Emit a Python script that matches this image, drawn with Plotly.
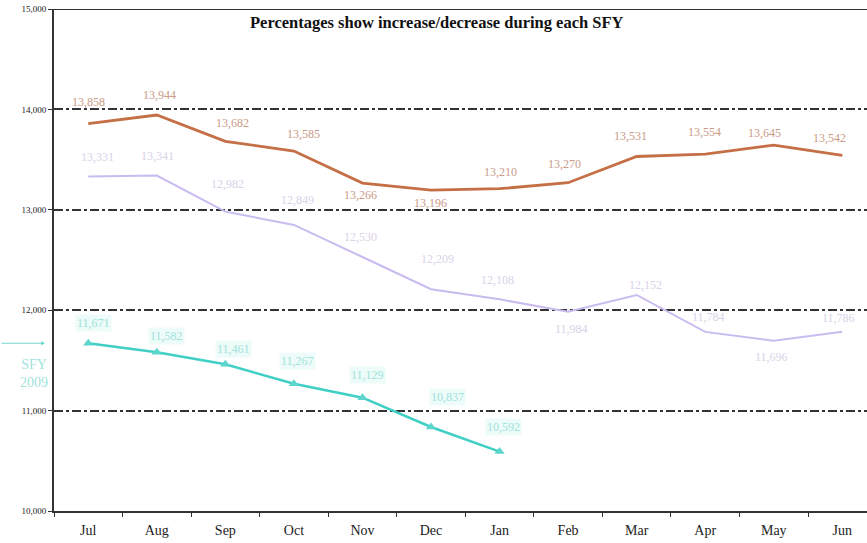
import plotly.graph_objects as go

months = ["Jul", "Aug", "Sep", "Oct", "Nov", "Dec", "Jan", "Feb", "Mar", "Apr", "May", "Jun"]
sfy2007 = [13858, 13944, 13682, 13585, 13266, 13196, 13210, 13270, 13531, 13554, 13645, 13542]
sfy2008 = [13331, 13341, 12982, 12849, 12530, 12209, 12108, 11984, 12152, 11784, 11696, 11786]
sfy2009 = [11671, 11582, 11461, 11267, 11129, 10837, 10592]
y_ticks = [10000, 11000, 12000, 13000, 14000, 15000]
title_text = "Percentages show increase/decrease during each SFY"

# label offsets (pixels) relative to each point
off07 = [(0, 22), (3, 20), (7, 18), (10, 17), (-2, -12), (-1, -13), (1, 17), (-4, 19), (-6, 20), (-1, 22), (-9, 12), (-13, 17)]
off08 = [(9, 20), (1, 20), (2, 28), (4, 25), (-2, 20), (6, 30), (-2, 19), (3, -17), (9, 10), (3, 15), (-2, -16), (-4, 14)]
off09 = [(5, 20), (10, 16), (8, 15), (4, 23), (5, 23), (16, 30), (4, 25)]

def fmt(v):
    return f"{v:,}"

fig = go.Figure()

fig.add_trace(go.Scatter(
    x=months, y=sfy2007, mode="lines",
    line=dict(color="#c46f45", width=2.8),
    showlegend=False, hoverinfo="skip"))

fig.add_trace(go.Scatter(
    x=months, y=sfy2008, mode="lines",
    line=dict(color="#c9bbf0", width=2),
    showlegend=False, hoverinfo="skip"))

fig.add_trace(go.Scatter(
    x=months[:len(sfy2009)], y=sfy2009, mode="lines+markers",
    line=dict(color="#3fcfc5", width=2.5),
    marker=dict(symbol="triangle-up", size=9, color="#5cd6cd"),
    showlegend=False, hoverinfo="skip"))

def add_labels(vals, offs, color, bg=None):
    for m, v, (dx, dy) in zip(months, vals, offs):
        fig.add_annotation(x=m, y=v, xref="x", yref="y", text=fmt(v), showarrow=False,
                           xshift=dx, yshift=dy,
                           font=dict(family="Liberation Serif", size=12, color=color),
                           bgcolor=bg)

add_labels(sfy2007, off07, "#c99a86")
add_labels(sfy2008, off08, "#d9d2e8")
add_labels(sfy2009, off09, "#9fe3dc", bg="rgba(225,248,245,0.6)")

fig.add_annotation(x=0.471, xref="paper", y=15000, yref="y", yshift=-13,
                   text=f"<b>{title_text}</b>", showarrow=False,
                   font=dict(family="Liberation Serif", size=16.5, color="#111"))

# SFY 2009 side label with arrow
fig.add_annotation(x=-0.011, xref="paper", y=11671, yref="y",
                   ax=-45, ay=0, axref="pixel", ayref="pixel",
                   text="", showarrow=True, arrowhead=2, arrowsize=0.8,
                   arrowwidth=1, arrowcolor="#6fd8cf")
fig.add_annotation(x=-0.044, xref="paper", y=11374, yref="y",
                   text="SFY<br>2009", showarrow=False,
                   font=dict(family="Liberation Serif", size=14, color="#9fe3dc"))

fig.add_shape(type="line", xref="paper", yref="y", x0=0, x1=1, y0=15000, y1=15000,
              line=dict(color="#333", width=2))

fig.update_layout(
    width=867, height=543,
    margin=dict(l=54, r=0, t=9, b=32),
    paper_bgcolor="white", plot_bgcolor="white",
    xaxis=dict(range=[-0.5, 11.36], showline=True, linecolor="#333", linewidth=2,
               ticks="outside", tickson="boundaries", ticklen=4, tickcolor="#333",
               showgrid=False, automargin=False, ticklabelstandoff=5,
               tickfont=dict(family="Liberation Serif", size=14, color="#222")),
    yaxis=dict(range=[10000, 15000], tickvals=y_ticks, tickformat=",",
               showline=True, linecolor="#333", linewidth=2,
               ticks="outside", ticklen=4, tickcolor="#333", automargin=False,
               showgrid=True, gridcolor="#333", gridwidth=1.5, griddash="dashdot",
               tickfont=dict(family="Liberation Serif", size=9, color="#222")),
)

fig.write_html("out.html", config={"displayModeBar": False},
               post_script="document.body.style.margin='0px';")
